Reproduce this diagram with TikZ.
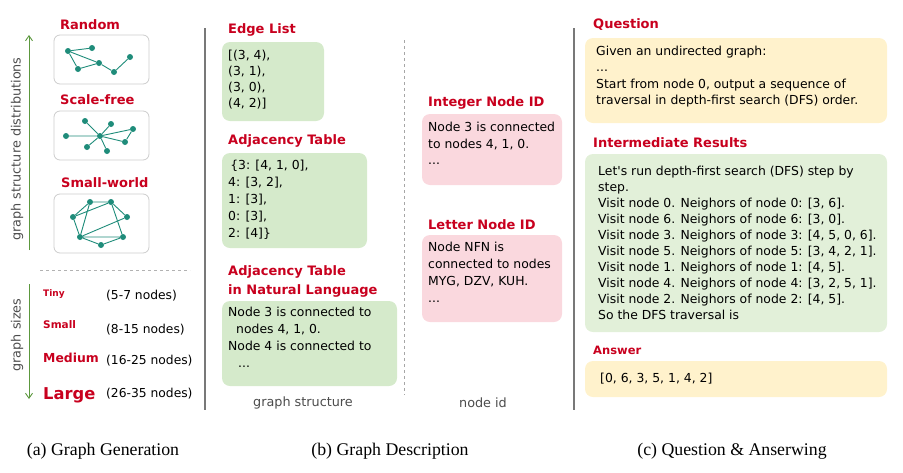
\documentclass[tikz,border=0pt]{standalone}
\usepackage{fontspec}
\setmainfont{Liberation Serif}
\newfontfamily\hand{DejaVu Sans}
\usetikzlibrary{arrows.meta}

\begin{document}
\begin{tikzpicture}[x=1pt,y=-1pt,line width=0.4pt]
\definecolor{figred}{RGB}{200,0,30}
\definecolor{figteal}{RGB}{31,140,122}
\definecolor{figgreen}{RGB}{92,152,62}
\definecolor{figgrey}{RGB}{120,120,120}
\definecolor{boxgreen}{RGB}{213,234,203}
\definecolor{boxlight}{RGB}{226,240,217}
\definecolor{boxpink}{RGB}{250,216,222}
\definecolor{boxyellow}{RGB}{255,242,204}
\tikzset{card/.style={rounded corners=8pt,draw=none},frame/.style={draw=black!20,rounded corners=6pt,line width=0.8pt},ttl/.style={anchor=west,inner sep=0pt,font=\hand\bfseries\fontsize{13}{19}\selectfont,text=figred,align=left},body/.style={anchor=north west,inner sep=0pt,align=left,font=\hand\fontsize{12.4}{16.3}\selectfont},gnode/.style={circle,fill=figteal,inner sep=0pt,minimum size=6pt},gedge/.style={draw=figteal,line width=0.9pt},axis/.style={draw=figgreen,line width=0.9pt,-{Straight Barb[length=5pt,width=7pt]}},panelsep/.style={draw=figgrey,line width=2pt},note/.style={inner sep=0pt,font=\hand\fontsize{12.8}{14}\selectfont,text=black!70},size/.style={anchor=west,inner sep=0pt,font=\hand\fontsize{12.3}{14}\selectfont},capt/.style={inner sep=0pt,font=\fontsize{17.8}{20}\selectfont}}
\useasboundingbox (0,0) rectangle (903,472);
% (a) graph generation
\coordinate (upfoot) at (29,250);
\coordinate (uphead) at (29,35);
\coordinate (downtop) at (29,284);
\coordinate (downfoot) at (29,399);
\draw[axis] (upfoot) -- (uphead);
\draw[axis] (downtop) -- (downfoot);
\node[note,rotate=90] (distlbl) at (17,149) {graph structure distributions};
\node[note,rotate=90] (sizelbl) at (17,335) {graph sizes};
\node[ttl] (randomttl) at (60,25) {Random};
\draw[frame] (54,35) rectangle (149,84);
\node[ttl] (scalettl) at (60,100) {Scale-free};
\draw[frame] (54,111) rectangle (149,160);
\node[ttl] (smallttl) at (61,183) {Small-world};
\draw[frame] (54,194) rectangle (149,253);
% random graph
\node[gnode] (r1) at (68,51) {};
\node[gnode] (r2) at (92,48) {};
\node[gnode] (r3) at (99,63) {};
\node[gnode] (r4) at (78,69) {};
\node[gnode] (r5) at (114,72) {};
\node[gnode] (r6) at (130,57) {};
\draw[gedge] (r1) -- (r2) (r1) -- (r3) (r1) -- (r4) (r4) -- (r3) (r3) -- (r5) (r5) -- (r6);
% scale-free graph
\node[gnode] (s0) at (100,136) {};
\node[gnode] (s1) at (66,136) {};
\node[gnode] (s2) at (85,121) {};
\node[gnode] (s3) at (111,124) {};
\node[gnode] (s4) at (133,129) {};
\node[gnode] (s5) at (125,142) {};
\node[gnode] (s6) at (107,151) {};
\node[gnode] (s7) at (87,147) {};
\draw[gedge] (s0) -- (s1) (s0) -- (s2) (s0) -- (s3) (s0) -- (s4) (s0) -- (s5) (s0) -- (s6) (s0) -- (s7) (s4) -- (s5);
% small-world graph
\node[gnode] (w1) at (90,202) {};
\node[gnode] (w2) at (111,202) {};
\node[gnode] (w3) at (73,217) {};
\node[gnode] (w4) at (127,217) {};
\node[gnode] (w5) at (80,237) {};
\node[gnode] (w6) at (123,237) {};
\node[gnode] (w7) at (101,245) {};
\draw[gedge] (w1) -- (w2) (w3) -- (w1) (w3) -- (w2) (w2) -- (w4) (w2) -- (w6) (w4) -- (w5) (w5) -- (w6) (w5) -- (w7) (w7) -- (w6) (w5) -- (w1) (w3) -- (w5);
\draw[draw=black!30,dashed,line width=0.8pt] (40,270) -- (190,270);
\node[anchor=west,inner sep=0pt,font=\hand\bfseries\fontsize{9}{10}\selectfont,text=figred] (tiny) at (43,294) {Tiny};
\node[anchor=west,inner sep=0pt,font=\hand\bfseries\fontsize{10.5}{12}\selectfont,text=figred] (small) at (43,325) {Small};
\node[anchor=west,inner sep=0pt,font=\hand\bfseries\fontsize{12.4}{15}\selectfont,text=figred] (medium) at (43,358) {Medium};
\node[anchor=west,inner sep=0pt,font=\hand\bfseries\fontsize{16.3}{19}\selectfont,text=figred] (large) at (43,395) {Large};
\node[size] (tinyn) at (106,296) {(5-7 nodes)};
\node[size] (smalln) at (106,330) {(8-15 nodes)};
\node[size] (mediumn) at (106,361) {(16-25 nodes)};
\node[size] (largen) at (106,394) {(26-35 nodes)};
\node[capt] (capa) at (103,451) {(a) Graph Generation};
% panel rules
\draw[panelsep] (205,28) -- (205,410);
\draw[panelsep] (574,28) -- (574,410);
\draw[draw=black!35,dashed] (404,40) -- (404,395);
% (b) graph description
\node[ttl] (edgettl) at (228,30) {Edge List};
\fill[card,fill=boxgreen] (222,42) rectangle (324,121);
\node[body,font=\hand\fontsize{12.4}{16}\selectfont] (edgetxt) at (228,50) {[(3, 4),\\(3, 1),\\(3, 0),\\(4, 2)]};
\node[ttl] (adjttl) at (228,141) {Adjacency Table};
\fill[card,fill=boxgreen] (222,153) rectangle (367,248);
\node[body,font=\hand\fontsize{12.4}{17}\selectfont] (adjtxt) at (228,160) {\,\{3: [4, 1, 0],\\4: [3, 2],\\1: [3],\\0: [3],\\2: [4]\}};
\node[ttl,anchor=north west] (natttl) at (228,265) {Adjacency Table\\in Natural Language};
\fill[card,fill=boxgreen] (222,301) rectangle (397,386);
\node[body,font=\hand\fontsize{12.4}{17}\selectfont] (nattxt) at (228,307) {Node 3 is connected to\\\hspace*{8pt}nodes 4, 1, 0.\\Node 4 is connected to\\\hspace*{10pt}...};
\node[note] (structlbl) at (303,403) {graph structure};
\node[ttl] (intttl) at (428,103) {Integer Node ID};
\fill[card,fill=boxpink] (422,114) rectangle (562,185);
\node[body,font=\hand\fontsize{12.4}{16.5}\selectfont] (inttxt) at (428,122) {Node 3 is connected\\to nodes 4, 1, 0.\\...};
\node[ttl] (letttl) at (428,225) {Letter Node ID};
\fill[card,fill=boxpink] (422,235) rectangle (562,322);
\node[body,font=\hand\fontsize{12.4}{17}\selectfont] (lettxt) at (428,242) {Node NFN is\\connected to nodes\\MYG, DZV, KUH.\\...};
\node[note] (idlbl) at (483,403) {node id};
\node[capt] (capb) at (390,451) {(b) Graph Description};
% (c) question and answering
\node[ttl] (questttl) at (593,25) {Question};
\fill[card,fill=boxyellow] (585,38) rectangle (887,123);
\node[body] (questtxt) at (596,46) {Given an undirected graph:\\...\\Start from node 0, output a sequence of\\traversal in depth-first search (DFS) order.};
\node[ttl] (interttl) at (593,143) {Intermediate Results};
\fill[card,fill=boxlight] (585,154) rectangle (887,332);
\node[body,font=\hand\fontsize{12.4}{16}\selectfont] (intertxt) at (598,166) {Let's run depth-first search (DFS) step by\\step.\\Visit node 0. Neighors of node 0: [3, 6].\\Visit node 6. Neighors of node 6: [3, 0].\\Visit node 3. Neighors of node 3: [4, 5, 0, 6].\\Visit node 5. Neighors of node 5: [3, 4, 2, 1].\\Visit node 1. Neighors of node 1: [4, 5].\\Visit node 4. Neighors of node 4: [3, 2, 5, 1].\\Visit node 2. Neighors of node 2: [4, 5].\\So the DFS traversal is};
\node[ttl,font=\hand\bfseries\fontsize{11.5}{12}\selectfont] (ansttl) at (593,350) {Answer};
\fill[card,fill=boxyellow] (585,361) rectangle (887,397);
\node[anchor=west,inner sep=0pt,font=\hand\fontsize{12.4}{14}\selectfont] (anstxt) at (600,379) {[0, 6, 3, 5, 1, 4, 2]};
\node[capt] (capc) at (732,451) {(c) Question \& Anserwing};
\end{tikzpicture}
\end{document}
